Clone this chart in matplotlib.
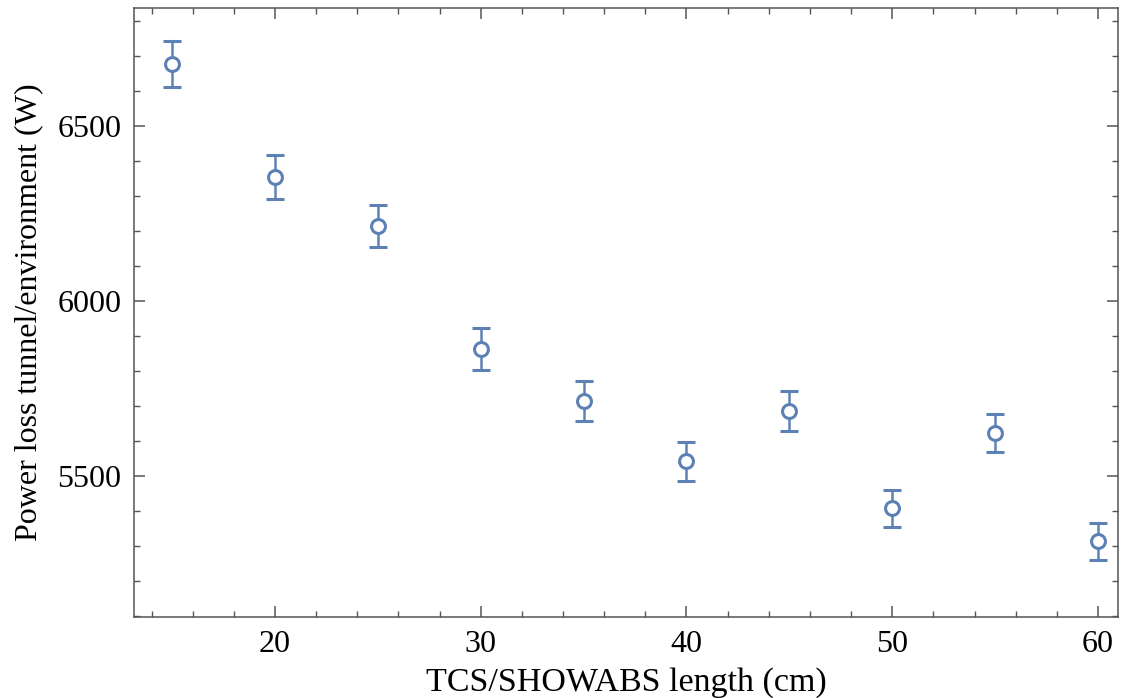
import numpy as np
import matplotlib.pyplot as plt
from matplotlib.ticker import MultipleLocator

# === Data ===
length_cm = [15, 20, 25, 30, 35, 40, 45, 50, 55, 60]
power_w = [6677, 6354, 6215, 5863, 5715, 5542, 5686, 5408, 5623, 5314]
power_err = [66, 63, 60, 61, 57, 56, 57, 53, 55, 53]

plt.rcParams['font.family'] = ['Liberation Serif', 'DejaVu Serif']

fig = plt.figure(figsize=(11.32, 6.98), dpi=100)
ax = fig.add_axes([0.1184, 0.116, 0.8692, 0.8725])

col = '#5E81B5'
ax.errorbar(length_cm, power_w, yerr=power_err, fmt='o', color=col,
            mfc='white', mec=col, ms=10, mew=2.2, elinewidth=1.8,
            capsize=6.5, capthick=1.8)

ax.set_xlim(13.15, 60.97)
ax.set_ylim(5097, 6837)

ax.xaxis.set_major_locator(MultipleLocator(10))
ax.xaxis.set_minor_locator(MultipleLocator(2))
ax.yaxis.set_major_locator(MultipleLocator(500))
ax.yaxis.set_minor_locator(MultipleLocator(100))

ax.tick_params(which='both', direction='in', top=True, right=True,
               color='#555555', labelsize=23, pad=9)
ax.tick_params(which='major', length=8, width=1.1)
ax.tick_params(which='minor', length=4, width=1.0)
for s in ax.spines.values():
    s.set_color('#555555')
    s.set_linewidth(1.1)

ax.set_xlabel('TCS/SHOWABS length (cm)', fontsize=24.5, labelpad=6)
ax.set_ylabel('Power loss tunnel/environment (W)', fontsize=23, labelpad=10)

fig.savefig('out.png', dpi=100)
